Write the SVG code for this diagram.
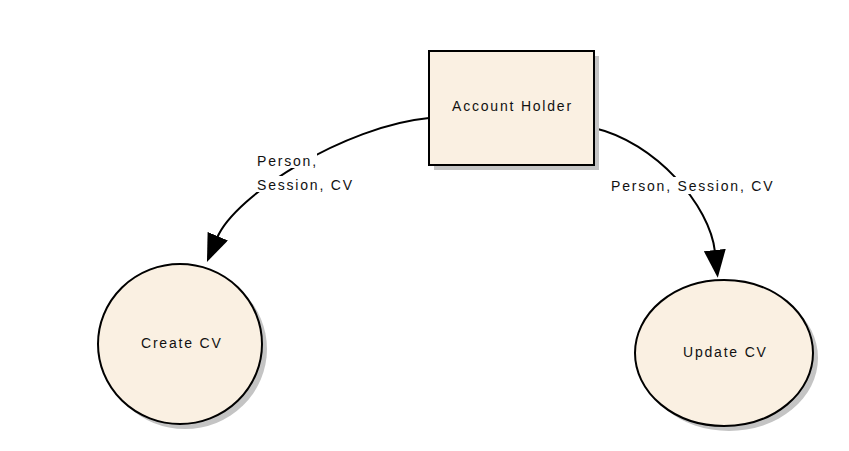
<svg xmlns="http://www.w3.org/2000/svg" width="849" height="451" viewBox="0 0 849 451">
<style>
.node{fill:#FAF0E2;stroke:#000;stroke-width:2}
.shadow{fill:#c4c4c4;stroke:none}
.t{font-family:"Liberation Sans",Arial,sans-serif;font-size:14px;fill:#111;letter-spacing:1.8px}
.edge{fill:none;stroke:#000;stroke-width:2}
.bg{fill:#fff}
</style>
<defs>
<marker id="arr" viewBox="0 0 28 22" refX="2" refY="11" markerWidth="28" markerHeight="22" markerUnits="userSpaceOnUse" orient="auto">
<path d="M0,0 L28,11 L0,22 Z" fill="#000"/>
</marker>
</defs>
<rect width="849" height="451" fill="#fff"/>
<g id="connectors">
<path class="edge" d="M429,118 C345,126 235,195 217,238" marker-end="url(#arr)"/>
<path class="edge" d="M594,128 C655,142 710,205 715,252" marker-end="url(#arr)"/>
<rect class="bg" x="255" y="152" width="62" height="16"/>
<rect class="bg" x="255" y="176" width="98" height="16"/>
<text class="t" x="257" y="166">Person,</text>
<text class="t" x="257" y="190">Session, CV</text>
<rect class="bg" x="609" y="177" width="166" height="17"/>
<text class="t" x="611" y="191">Person, Session, CV</text>
</g>
<g id="account-holder">
<rect class="shadow" x="434" y="56" width="165" height="114"/>
<rect class="node" x="429" y="51" width="165" height="114"/>
<text class="t" x="452" y="111">Account Holder</text>
</g>
<g id="create-cv">
<ellipse class="shadow" cx="185" cy="349" rx="82" ry="80"/>
<ellipse class="node" cx="180" cy="344" rx="82" ry="80"/>
<text class="t" x="141" y="348">Create CV</text>
</g>
<g id="update-cv">
<ellipse class="shadow" cx="729" cy="358" rx="89" ry="73"/>
<ellipse class="node" cx="724" cy="353" rx="89" ry="73"/>
<text class="t" x="683" y="357">Update CV</text>
</g>
</svg>
